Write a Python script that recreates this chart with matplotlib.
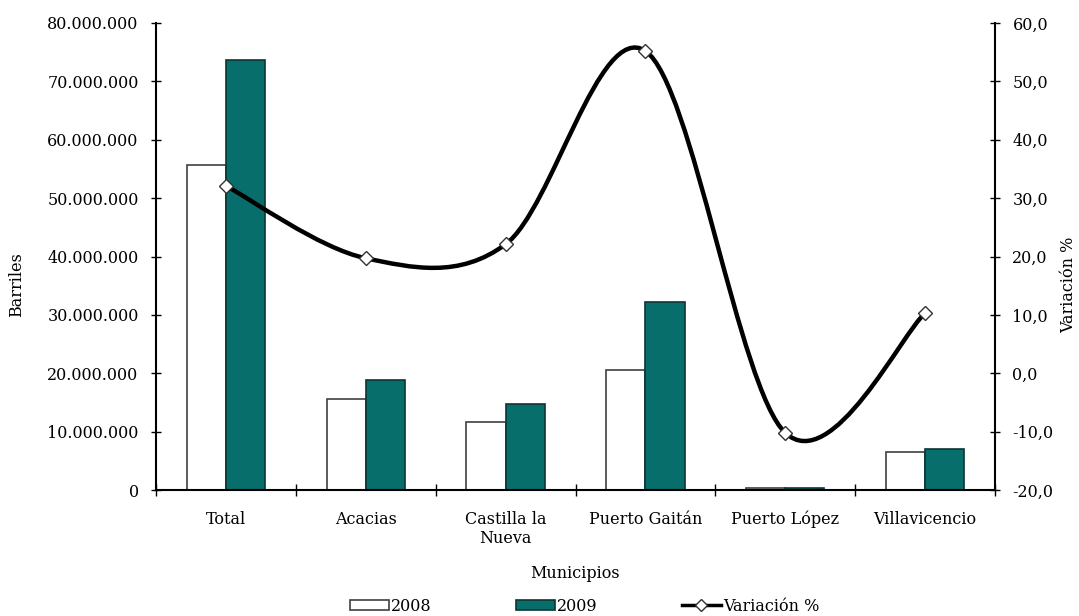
import matplotlib
matplotlib.use('Agg')
import matplotlib.pyplot as plt
import numpy as np
from matplotlib.path import Path
from matplotlib.patches import PathPatch, Patch
from matplotlib.lines import Line2D
from matplotlib.ticker import FuncFormatter, FixedLocator

plt.rcParams['font.family'] = 'DejaVu Serif'
plt.rcParams['font.size'] = 11.5

# Data
municipios = ['Total', 'Acacias', 'Castilla la\nNueva', 'Puerto Gaitán', 'Puerto López', 'Villavicencio']
barriles_2008 = [55700000, 15600000, 11650000, 20550000, 330000, 6500000]
barriles_2009 = [73700000, 18900000, 14700000, 32200000, 290000, 7050000]
variacion = [32.1, 19.7, 22.1, 55.2, -10.2, 10.3]

teal = '#086e6b'

fig = plt.figure(figsize=(10.79, 6.16), dpi=100)
ax = fig.add_axes([0.1446, 0.2045, 0.7776, 0.7582])
ax2 = ax.twinx()

x = np.arange(len(municipios))
w = 0.28
ax.bar(x - w / 2, barriles_2008, w, color='white', edgecolor='#404040', linewidth=1.2, zorder=2)
ax.bar(x + w / 2, barriles_2009, w, color=teal, edgecolor='#0b3634', linewidth=1.2, zorder=2)

ax.set_xlim(-0.5, len(municipios) - 0.5)
ax.set_ylim(0, 80000000)
ax.set_yticks(np.arange(0, 80000001, 10000000))
ax.yaxis.set_major_formatter(FuncFormatter(lambda v, p: '{:,.0f}'.format(v).replace(',', '.')))
ax.set_xticks(x)
ax.set_xticklabels(municipios)
ax.xaxis.set_minor_locator(FixedLocator(np.arange(-0.5, len(municipios), 1.0)))
ax.tick_params(axis='x', which='major', length=0, pad=15)
ax.tick_params(axis='x', which='minor', direction='inout', length=9, width=1)
ax.tick_params(axis='y', direction='inout', length=7, width=1, pad=9)

for s in ['top', 'right']:
    ax.spines[s].set_visible(False)
ax.spines['left'].set_linewidth(1.5)
ax.spines['bottom'].set_linewidth(1.5)

# smooth line (Excel-style curve through the points)
pts = np.column_stack([x, variacion]).astype(float)
n = len(pts)
verts = [pts[0]]
codes = [Path.MOVETO]
for i in range(n - 1):
    p0 = pts[i - 1] if i > 0 else pts[i]
    p1 = pts[i]
    p2 = pts[i + 1]
    p3 = pts[i + 2] if i + 2 < n else pts[i + 1]
    c1 = p1 + (p2 - p0) / 6.0
    c2 = p2 - (p3 - p1) / 6.0
    verts += [c1, c2, p2]
    codes += [Path.CURVE4] * 3
ax2.add_patch(PathPatch(Path(verts, codes), facecolor='none', edgecolor='black',
                        linewidth=3.2, zorder=3, capstyle='round'))
ax2.plot(x, variacion, linestyle='none', marker='D', markersize=7.5,
         markerfacecolor='white', markeredgecolor='#333333', markeredgewidth=1, zorder=4)

ax2.set_ylim(-20, 60)
ax2.set_yticks(np.arange(-20, 61, 10))
ax2.yaxis.set_major_formatter(FuncFormatter(lambda v, p: '{:.1f}'.format(v).replace('.', ',')))
ax2.tick_params(axis='y', direction='inout', length=7, width=1, pad=9)
for s in ['top', 'left', 'bottom']:
    ax2.spines[s].set_visible(False)
ax2.spines['right'].set_linewidth(1.5)

ax.set_ylabel('Barriles')
ax.yaxis.set_label_coords(-0.156, 0.44)
ax2.set_ylabel('Variación %')
ax2.yaxis.set_label_coords(1.0775, 0.44)
fig.text(0.533, 1 - 573 / 616, 'Municipios', ha='center', va='center')

handles = [
    Patch(facecolor='white', edgecolor='#404040', linewidth=1.2),
    Patch(facecolor=teal, edgecolor='#0b3634', linewidth=1.2),
    Line2D([], [], color='black', linewidth=2.5, marker='D', markersize=6,
           markerfacecolor='white', markeredgecolor='#333333'),
]
fig.legend(handles, ['2008', '2009', 'Variación %'], loc='center',
           bbox_to_anchor=(0.542, 0.016), ncol=3, frameon=False,
           handlelength=2.4, handleheight=0.6, handletextpad=0.15, columnspacing=5.3,
           borderpad=0.1)

fig.savefig('out.png', dpi=100)
